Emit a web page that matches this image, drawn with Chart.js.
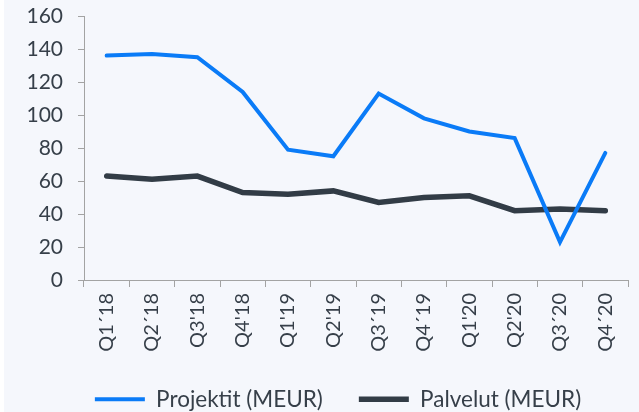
<!DOCTYPE html>
<html>
<head>
<meta charset="utf-8">
<script src="https://cdn.jsdelivr.net/npm/chart.js@4/dist/chart.umd.min.js"></script>
<style>
  html, body { margin: 0; padding: 0; background: #ffffff; }
  #wrap { position: absolute; left: 0; top: 0; width: 639px; height: 412px; }
</style>
</head>
<body>
<div id="wrap"><canvas id="c" width="639" height="412"></canvas></div>
<script>
const categories = ["Q1´18", "Q2´18", "Q3'18", "Q4'18", "Q1'19", "Q2'19", "Q3´19", "Q4´19", "Q1'20", "Q2'20", "Q3´20", "Q4´20"];
const projektit = [136, 137, 135, 114, 79, 75, 113, 98, 90, 86, 23, 77];
const palvelut = [63, 61, 63, 53, 52, 54, 47, 50, 51, 42, 43, 42];
const yTicks = [0, 20, 40, 60, 80, 100, 120, 140, 160];

const textColor = '#363f49';
const axisColor = '#a3a3a3';

const bgPlugin = {
  id: 'bg',
  beforeDraw(chart) {
    const ctx = chart.ctx;
    ctx.save();
    ctx.fillStyle = '#ffffff';
    ctx.fillRect(0, 0, chart.width, chart.height);
    ctx.fillStyle = '#f5f7fc';
    ctx.fillRect(4, 0, chart.width - 4, chart.height);
    ctx.restore();
  }
};

const legendShift = {
  id: 'legendShift',
  afterLayout(chart) {
    const lg = chart.legend;
    if (lg) {
      lg.left += 24;
      lg.right += 24;
    }
  }
};

new Chart(document.getElementById('c'), {
  type: 'line',
  data: {
    labels: categories,
    datasets: [
      {
        label: 'Projektit (MEUR)',
        data: projektit,
        borderColor: '#0a7bf7',
        backgroundColor: '#0a7bf7',
        borderWidth: 4,
        pointRadius: 0,
        tension: 0,
        pointStyle: 'line',
        borderCapStyle: 'round'
      },
      {
        label: 'Palvelut (MEUR)',
        data: palvelut,
        borderColor: '#323c46',
        backgroundColor: '#323c46',
        borderWidth: 5.5,
        pointRadius: 0,
        tension: 0,
        pointStyle: 'line',
        borderCapStyle: 'round'
      }
    ]
  },
  options: {
    responsive: false,
    animation: false,
    layout: { padding: { top: 16, right: 11, bottom: 0, left: 0 } },
    plugins: {
      legend: {
        position: 'bottom',
        maxHeight: 60,
        labels: {
          usePointStyle: true,
          pointStyleWidth: 50,
          boxHeight: 8,
          padding: 36,
          color: textColor,
          font: { family: 'Lato', size: 22.5 }
        }
      },
      tooltip: { enabled: false }
    },
    scales: {
      x: {
        type: 'category',
        offset: true,
        grid: { offset: true, drawOnChartArea: false, drawTicks: true, tickLength: 7, color: axisColor },
        border: { display: true, color: axisColor, width: 1 },
        ticks: { color: textColor, font: { family: 'Lato', size: 20 }, minRotation: 90, maxRotation: 90, padding: 6, autoSkip: false },
        afterFit(scale) { scale.height = 72; }
      },
      y: {
        min: 0,
        max: 160,
        afterBuildTicks(scale) { scale.ticks = yTicks.map(v => ({ value: v })); },
        grid: { drawOnChartArea: false, drawTicks: true, tickLength: 6, color: axisColor },
        border: { display: true, color: axisColor, width: 1 },
        ticks: { color: textColor, font: { family: 'Lato', size: 21 }, padding: 15 },
        afterFit(scale) { scale.width = 84; scale.paddingTop = 0; scale.paddingBottom = 0; }
      }
    }
  },
  plugins: [bgPlugin, legendShift]
});
</script>
</body>
</html>
